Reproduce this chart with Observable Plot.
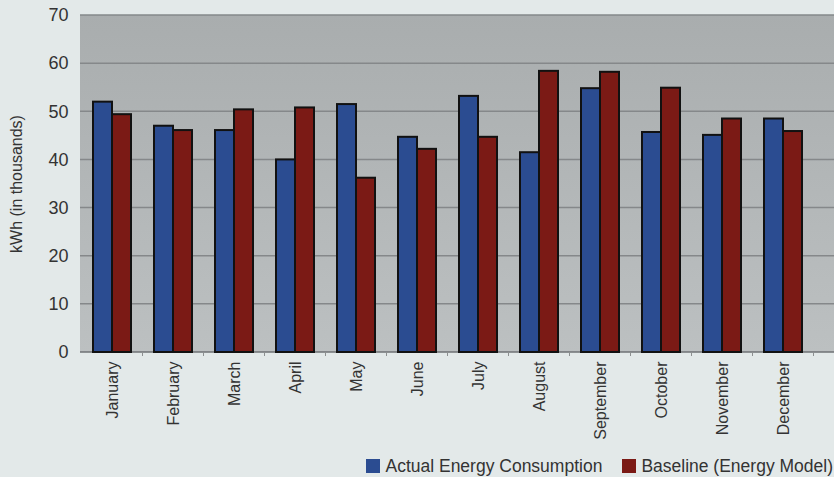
<!DOCTYPE html>
<html>
<head>
<meta charset="utf-8">
<script src="https://cdn.jsdelivr.net/npm/d3@7"></script>
<script src="https://cdn.jsdelivr.net/npm/@observablehq/plot@0.6"></script>
<style>
  html, body { margin: 0; padding: 0; background: #e3e9e9; }
  body { width: 834px; height: 477px; overflow: hidden; font-family: "Liberation Sans", Arial, sans-serif; }
  #legend { display: flex; justify-content: flex-end; align-items: center; height: 22px; font-size: 17.5px; color: #333; padding-right: 1px; }
  .item { display: flex; align-items: center; margin-left: 20px; }
  .sw { width: 14px; height: 14px; margin-right: 5px; }
</style>
</head>
<body>
<div id="chart"></div>
<div id="legend"></div>
<script>
const months = ["January","February","March","April","May","June","July","August","September","October","November","December"];
const actual   = [52.0, 47.0, 46.1, 40.0, 51.5, 44.7, 53.2, 41.5, 54.8, 45.7, 45.1, 48.5];
const baseline = [49.4, 46.1, 50.4, 50.8, 36.2, 42.2, 44.7, 58.4, 58.2, 54.9, 48.5, 45.9];
const seriesNames = ["Actual Energy Consumption", "Baseline (Energy Model)"];
const seriesColors = ["#2b4c91", "#7b1a15"];
const yTicks = [0, 10, 20, 30, 40, 50, 60, 70];

const data = months.flatMap((m, i) => [
  {month: m, series: seriesNames[0], value: actual[i]},
  {month: m, series: seriesNames[1], value: baseline[i]}
]);

const W = 834, ML = 80, MR = 0;
const chart = Plot.plot({
  width: W, height: 455,
  marginLeft: ML, marginRight: MR, marginTop: 15, marginBottom: 103,
  style: {background: "transparent", fontFamily: "Liberation Sans, Arial, sans-serif", fontSize: "16px", color: "#333"},
  fx: {domain: months, range: [78.25, 816.25], paddingInner: 0.38, paddingOuter: 0.19, label: null, axis: "bottom", tickRotate: -90, tickSize: 0, tickPadding: 9},
  x: {domain: seriesNames, axis: null, paddingInner: 0, paddingOuter: 0},
  y: {domain: [0, 70], axis: null},
  color: {domain: seriesNames, range: seriesColors},
  marks: [
    Plot.axisY({ticks: yTicks, tickSize: 0, tickPadding: 25, fontSize: 18, label: null}),
    Plot.text(["kWh (in thousands)"], {frameAnchor: "left", textAnchor: "middle", rotate: -90, dx: -77, fontSize: 16, fill: "#333", facet: "super"}),
    Plot.barY(data, {fx: "month", x: "series", y: "value", fill: "series", stroke: "#111", strokeWidth: 2})
  ]
});
document.getElementById("chart").appendChild(chart);

// background + grid using the library's scales
const ys = chart.scale("y");
const fxs = chart.scale("fx");
const [y0, y1] = ys.range;
const svg = d3.select(chart);
const defs = svg.insert("defs", ":first-child");
const grad = defs.append("linearGradient").attr("id", "bg").attr("x1", 0).attr("y1", 0).attr("x2", 0).attr("y2", 1);
grad.append("stop").attr("offset", "0%").attr("stop-color", "#a9adae");
grad.append("stop").attr("offset", "100%").attr("stop-color", "#bcc0c1");
const bg = svg.insert("g", "defs + *");
bg.append("rect").attr("x", ML).attr("y", y1).attr("width", W - ML - MR).attr("height", y0 - y1).attr("fill", "url(#bg)");
bg.selectAll("line.grid").data(yTicks).join("line")
  .attr("x1", ML).attr("x2", W - MR)
  .attr("y1", d => ys.apply(d)).attr("y2", d => ys.apply(d))
  .attr("stroke", d => d === 0 ? "#6f7274" : "#85888a").attr("stroke-width", 1.5);
const step = fxs.step, bw = fxs.bandwidth;
bg.selectAll("line.tk").data(months).join("line")
  .attr("x1", d => fxs.apply(d) + bw + (step - bw) / 2)
  .attr("x2", d => fxs.apply(d) + bw + (step - bw) / 2)
  .attr("y1", y0).attr("y2", y0 + 4)
  .attr("stroke", "#8c8f90").attr("stroke-width", 1);

// legend
const legend = d3.select("#legend");
seriesNames.forEach((s, i) => {
  const it = legend.append("div").attr("class", "item");
  it.append("div").attr("class", "sw").style("background", seriesColors[i]);
  it.append("span").text(s);
});
</script>
</body>
</html>
